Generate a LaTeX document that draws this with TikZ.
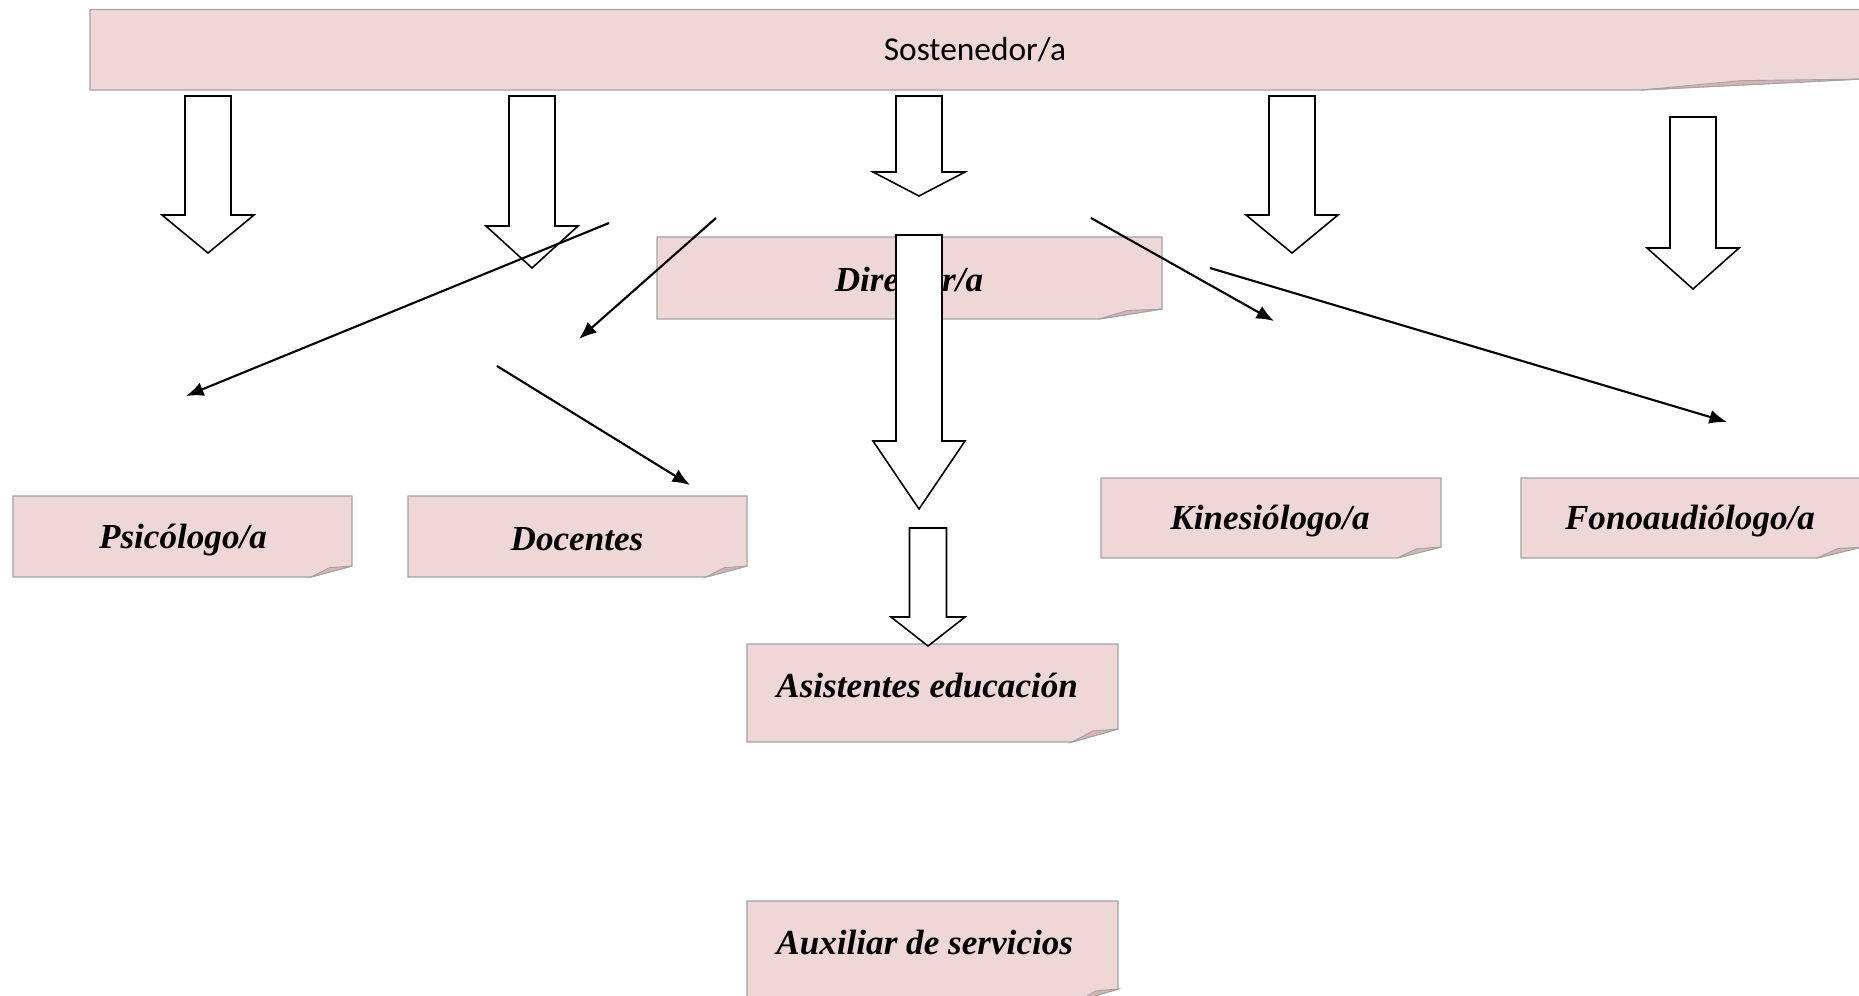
\documentclass[tikz,border=0pt]{standalone}
\usepackage{fontspec}
\setmainfont{Liberation Serif}
\newfontfamily\sostfont{Carlito}
\usetikzlibrary{arrows.meta}

\definecolor{notepink}{HTML}{EFD7D8}
\definecolor{notegray}{HTML}{A3A3A3}
\definecolor{foldpink}{HTML}{D9B2B4}

\tikzset{
  notebox/.style={draw=notegray, line width=0.7pt, fill=notepink},
  notecurl/.style={draw=notegray, line width=0.5pt, fill=foldpink},
  rolelabel/.style={inner sep=0pt, font=\bfseries\itshape\fontsize{20}{24}\selectfont},
  toplabel/.style={inner sep=0pt, font=\sostfont\fontsize{19}{22}\selectfont},
  blockarrow/.style={draw=black, line width=0.9pt, fill=white, line join=miter},
  thinarrow/.style={line width=1.2pt, -{Latex[length=10pt,width=8pt]}},
}

% x1, y1, x2, y2, curl width, curl height
\newcommand{\stickynote}[6]{%
  \draw[notebox] (#1,#2) -- (#3,#2) -- (#3,#4-#6) -- (#3-#5,#4) -- (#1,#4) -- cycle;
  \draw[notecurl] (#3-#5,#4) -- (#3-#5*0.55,#4-#6*0.85) -- (#3,#4-#6) -- cycle;
}
% x, top, head base, tip, half shaft, half head
\newcommand{\hollowarrow}[6]{%
  \draw[blockarrow] (#1-#5,#2) -- (#1+#5,#2) -- (#1+#5,#3) -- (#1+#6,#3)
    -- (#1,#4) -- (#1-#6,#3) -- (#1-#5,#3) -- cycle;
}

\begin{document}
\begin{tikzpicture}[x=0.02cm, y=-0.02cm]
  \useasboundingbox (0,0) rectangle (1859,995);
  \clip (0,0) rectangle (1859,995);

  % boxes
  \stickynote{90}{9.5}{1862}{90}{221}{11}
  \node[toplabel] (sost) at (975,50) {Sostenedor/a};

  \stickynote{657}{237}{1162}{319}{63}{10}
  \node[rolelabel] (dir) at (909,279) {Director/a};

  \stickynote{13}{496}{352}{577}{41}{11}
  \node[rolelabel] (psico) at (183,540) {Psicólogo/a};

  \stickynote{408}{496}{747}{577}{41}{11}
  \node[rolelabel] (doc) at (577,539) {Docentes};

  \stickynote{1101}{478}{1441}{558}{44}{11}
  \node[rolelabel] (kine) at (1270,521) {Kinesiólogo/a};

  \stickynote{1521}{478}{1862}{558}{45}{11}
  \node[rolelabel] (fono) at (1690,521) {Fonoaudiólogo/a};

  \stickynote{747}{644}{1118}{742}{46}{13}
  \node[rolelabel, anchor=west] (asist) at (776,685) {Asistentes educación};

  \stickynote{747}{901}{1118}{1001}{40}{12}
  \node[rolelabel, anchor=west] (aux) at (776,942) {Auxiliar de servicios};

  % hollow arrows
  \hollowarrow{208}{96}{215}{253}{23}{46}
  \hollowarrow{532}{96}{226}{268}{23}{46}
  \hollowarrow{919}{96}{172}{196}{23}{46}
  \hollowarrow{1292}{96}{215}{253}{23}{46}
  \hollowarrow{1693}{117}{248}{289}{23}{46}
  \hollowarrow{919}{235}{441}{509}{23}{46}
  \hollowarrow{928}{528}{617}{646}{18.5}{37}

  % thin arrows
  \coordinate (psiA) at (609,223);
  \coordinate (psiB) at (186,396);
  \coordinate (docA) at (716,218);
  \coordinate (docB) at (579,339);
  \coordinate (docC) at (497,366);
  \coordinate (docD) at (690,485);
  \coordinate (kinA) at (1091,218);
  \coordinate (kinB) at (1274,321);
  \coordinate (fonA) at (1210,268);
  \coordinate (fonB) at (1727,422);
  \draw[thinarrow] (psiA) -- (psiB);
  \draw[thinarrow] (docA) -- (docB);
  \draw[thinarrow] (docC) -- (docD);
  \draw[thinarrow] (kinA) -- (kinB);
  \draw[thinarrow] (fonA) -- (fonB);
\end{tikzpicture}
\end{document}
